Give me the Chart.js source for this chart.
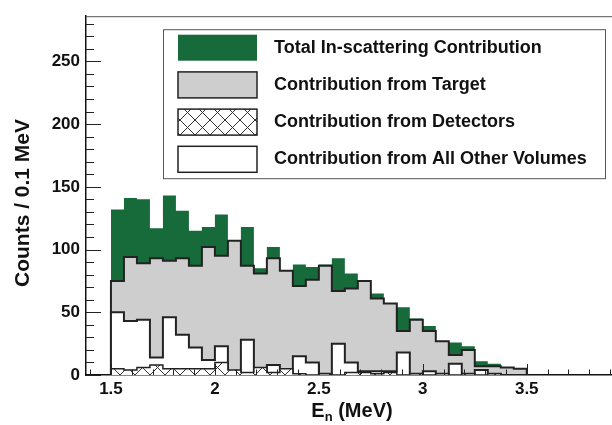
<!DOCTYPE html>
<html>
<head>
<meta charset="utf-8">
<script src="https://cdn.jsdelivr.net/npm/chart.js@4/dist/chart.umd.min.js"></script>
<style>
  html, body { margin: 0; padding: 0; background: #fff; }
  #wrap { width: 612px; height: 425px; }
</style>
</head>
<body>
<div id="wrap"><canvas id="spectrum"></canvas></div>
<script>
// histogram bin edges (MeV), 1/16 MeV bins
const binEdges = [1.5, 1.5625, 1.625, 1.6875, 1.75, 1.8125, 1.875, 1.9375,
  2.0, 2.0625, 2.125, 2.1875, 2.25, 2.3125, 2.375, 2.4375,
  2.5, 2.5625, 2.625, 2.6875, 2.75, 2.8125, 2.875, 2.9375,
  3.0, 3.0625, 3.125, 3.1875, 3.25, 3.3125, 3.375, 3.4375, 3.5];

const totalCounts    = [132, 141, 140, 117, 143, 131, 115, 118, 128, 107, 118, 85, 102, 83, 88, 86,
                        88, 93, 81, 75, 65, 57, 54, 45, 39, 27, 26, 23, 11, 9, 6, 5];
const targetCounts   = [75, 94, 89, 93, 91, 93, 87, 102, 95, 107, 87, 81, 93, 83, 71, 76,
                        87, 67, 69, 75, 61, 57, 35, 44, 35, 27, 16, 20, 7, 7, 6, 5];
const detectorCounts = [5, 4, 6, 8, 5, 5, 5, 5, 10, 4, 2, 6, 2, 5, 1, 0,
                        1, 0, 2, 2, 1, 2, 0, 1, 0, 1, 0, 1, 0, 1, 0, 0];
const otherCounts    = [50, 43, 44, 14, 46, 32, 22, 12, 23, 1, 28, 1, 8, 0, 15, 10,
                        1, 25, 10, 3, 3, 3, 18, 1, 3, 1, 9, 1, 4, 1, 0, 0];

const seriesNames = ['Total In-scattering Contribution', 'Contribution from Target',
  'Contribution from Detectors', 'Contribution from All Other Volumes'];

const xTicks = [1.5, 2, 2.5, 3, 3.5];
const yTicks = [0, 50, 100, 150, 200, 250];

const FONT = "'Liberation Sans', Arial, Helvetica, sans-serif";

// step outline: up from zero at the first edge, down to zero at the last
function histPoints(counts) {
  const pts = [{ x: binEdges[0], y: 0 }];
  counts.forEach((c, i) => pts.push({ x: binEdges[i], y: c }));
  pts.push({ x: binEdges[counts.length], y: 0 });
  return pts;
}

// cross hatch, white underneath
function crossHatch() {
  const s = 15;
  const c = document.createElement('canvas');
  c.width = s; c.height = s;
  const g = c.getContext('2d');
  g.fillStyle = '#fff';
  g.fillRect(0, 0, s, s);
  g.strokeStyle = '#333';
  g.lineWidth = 1;
  g.beginPath();
  g.moveTo(0, 0); g.lineTo(s, s);
  g.moveTo(s, 0); g.lineTo(0, s);
  g.stroke();
  return g.createPattern(c, 'repeat');
}

const axesDecor = {
  id: 'axesDecor',
  afterDatasetsDraw(chart) {
    const { ctx, chartArea: a, scales: { x, y } } = chart;
    ctx.save();
    ctx.strokeStyle = '#222';
    ctx.lineWidth = 1;
    ctx.beginPath();
    // inward ticks on y: major every 50, minor every 10
    for (let v = 0; v <= y.max; v += 10) {
      const py = Math.round(y.getPixelForValue(v)) + 0.5;
      const len = v % 50 === 0 ? 15 : 8;
      ctx.moveTo(a.left, py); ctx.lineTo(a.left + len, py);
    }
    // inward ticks on x: major every 0.5, minor every 0.1
    for (let k = Math.ceil(x.min * 10); k <= Math.floor(x.max * 10); k++) {
      const px = Math.round(x.getPixelForValue(k / 10)) + 0.5;
      const len = k % 5 === 0 ? 11 : 5.5;
      ctx.moveTo(px, a.bottom); ctx.lineTo(px, a.bottom - len);
    }
    ctx.stroke();
    // top frame edge
    ctx.strokeStyle = '#555';
    ctx.beginPath();
    ctx.moveTo(a.left, a.top + 0.5); ctx.lineTo(a.right, a.top + 0.5);
    ctx.stroke();
    ctx.restore();
  },
  afterDraw(chart) {
    const { ctx, chartArea: a } = chart;
    ctx.save();
    ctx.fillStyle = '#111';
    ctx.textBaseline = 'alphabetic';

    // x title with subscript
    const big = 'bold 20px ' + FONT, small = 'bold 13px ' + FONT;
    ctx.font = big; const wE = ctx.measureText('E').width;
    const wRest = ctx.measureText(' (MeV)').width;
    ctx.font = small; const wn = ctx.measureText('n').width;
    let tx = 352 - (wE + wn + wRest) / 2;
    const ty = 417;
    ctx.font = big; ctx.fillText('E', tx, ty); tx += wE;
    ctx.font = small; ctx.fillText('n', tx, ty + 4); tx += wn;
    ctx.font = big; ctx.fillText(' (MeV)', tx, ty);

    // y title
    ctx.save();
    ctx.translate(29, 203);
    ctx.rotate(-Math.PI / 2);
    ctx.textAlign = 'center';
    ctx.font = 'bold 21px ' + FONT;
    ctx.fillText('Counts / 0.1 MeV', 0, 0);
    ctx.restore();

    // legend panel
    const L = a.left + 77, T = a.top + 13, R = a.right - 7, B = a.top + 162;
    ctx.fillStyle = '#fff';
    ctx.fillRect(L, T, R - L, B - T);
    ctx.strokeStyle = '#555';
    ctx.lineWidth = 1;
    ctx.strokeRect(L + 0.5, T + 0.5, R - L, B - T);
    ctx.font = 'bold 18px ' + FONT;
    ctx.textBaseline = 'middle';
    chart.data.datasets.forEach((ds, row) => {
      const cy = T + 18.5 + row * 37.2;
      const bx = L + 15, bw = 79, bh = 26;
      ctx.fillStyle = ds.backgroundColor;
      ctx.fillRect(bx, cy - bh / 2, bw, bh);
      if (ds.borderWidth > 0) {
        ctx.strokeStyle = '#222';
        ctx.lineWidth = 1.5;
        ctx.strokeRect(bx, cy - bh / 2, bw, bh);
      }
      ctx.fillStyle = '#111';
      ctx.fillText(ds.label, L + 111, cy);
    });
    ctx.restore();
  }
};

const hatch = crossHatch();
const common = { stepped: 'before', fill: 'origin', pointRadius: 0, tension: 0 };

new Chart(document.getElementById('spectrum'), {
  type: 'line',
  data: {
    datasets: [
      { ...common, label: seriesNames[0], data: histPoints(totalCounts),
        backgroundColor: '#176a3a', borderColor: 'rgba(0,0,0,0)', borderWidth: 0, order: 4 },
      { ...common, label: seriesNames[1], data: histPoints(targetCounts),
        backgroundColor: '#cecece', borderColor: '#222', borderWidth: 2, order: 3 },
      { ...common, label: seriesNames[2], data: histPoints(detectorCounts),
        backgroundColor: hatch, borderColor: '#222', borderWidth: 1.5, order: 1 },
      { ...common, label: seriesNames[3], data: histPoints(otherCounts),
        backgroundColor: '#fff', borderColor: '#222', borderWidth: 2, order: 2 }
    ]
  },
  options: {
    responsive: true,
    maintainAspectRatio: false,
    animation: false,
    layout: { padding: { top: 10, right: 0, left: 0, bottom: 0 } },
    plugins: { legend: { display: false }, tooltip: { enabled: false } },
    scales: {
      x: {
        type: 'linear', min: 1.38, max: 3.91,
        afterBuildTicks: s => { s.ticks = xTicks.map(v => ({ value: v })); },
        afterFit: s => { s.height = 50; },
        grid: { display: false, drawTicks: false },
        border: { display: true, color: '#111', width: 1.5 },
        ticks: { color: '#111', padding: 4, maxRotation: 0, autoSkip: false,
                 font: { family: FONT, size: 17, weight: 'bold' }, callback: v => String(v) }
      },
      y: {
        type: 'linear', min: 0, max: 286,
        afterBuildTicks: s => { s.ticks = yTicks.map(v => ({ value: v })); },
        afterFit: s => { s.width = 86; },
        grid: { display: false, drawTicks: false },
        border: { display: true, color: '#111', width: 1.5 },
        ticks: { color: '#111', padding: 6, autoSkip: false,
                 font: { family: FONT, size: 17, weight: 'bold' }, callback: v => String(v) }
      }
    }
  },
  plugins: [axesDecor]
});
</script>
</body>
</html>
